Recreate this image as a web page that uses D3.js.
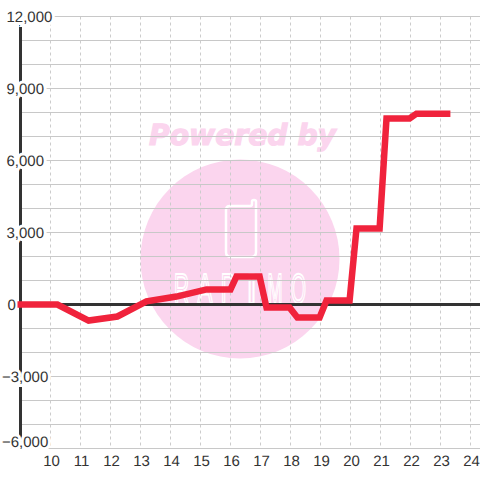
<!DOCTYPE html>
<html><head><meta charset="utf-8">
<script src="https://cdn.jsdelivr.net/npm/d3@7"></script>
<style>html,body{margin:0;padding:0;background:#fff}svg{display:block}text{font-family:"Liberation Sans",Arial,sans-serif;text-rendering:geometricPrecision}</style>
</head><body><div id="c"></div>
<script>
const hours=[8.9,10.23,11.27,12.23,13.2,14.2,15.2,16.0,16.2,16.97,17.2,17.97,18.23,18.97,19.2,19.97,20.2,20.97,21.2,21.97,22.2,23.33];
const values=[0,0,-670,-500,130,330,630,630,1170,1170,-130,-130,-540,-540,170,170,3170,3170,7750,7750,7950,7950];
const xTicks=[10,11,12,13,14,15,16,17,18,19,20,21,22,23,24];
const yLabelTicks=[12000,9000,6000,3000,0,-3000,-6000];
const yGridTicks=d3.range(-6000,12001,1000);
const brandLetters=['R','A','P','I','M','O'];

const svg=d3.select('#c').append('svg').attr('width',480).attr('height',480);
const x=d3.scaleLinear().domain([9,24.33]).range([20.5,480.4]);
const y=d3.scaleLinear().domain([-6000,12000]).range([448.5,16.5]);
const slot=d3.scaleLinear().domain([0,5]).range([181.5,298.5]);

// watermark
const wm=svg.append('g');
wm.append('circle').attr('cx',240).attr('cy',259).attr('r',99.5).attr('fill','#fbd5ee');
wm.append('text').attr('x',149).attr('y',145).attr('textLength',187).attr('lengthAdjust','spacingAndGlyphs')
  .style('font-family','"DejaVu Sans"').attr('font-size',29).attr('font-weight','bold').attr('font-style','italic').attr('fill','#fbd5ee').attr('stroke','#fbd5ee').attr('stroke-width',1.2).text('Powered by');
wm.append('path').attr('d','M230 206H250Q252 206 252 204V201.5Q252 200 254 200Q256 200 256 201.5V252Q256 257 251 257H231Q226 257 226 252V210Q226 206 230 206Z')
  .attr('fill','none').attr('stroke','#fff').attr('stroke-width',2.5);
wm.append('g').selectAll('text').data(brandLetters).join('text')
  .attr('text-anchor','middle').attr('font-size',42).attr('fill','none').attr('stroke','#fff').attr('stroke-width',2).text(d=>d)
  .attr('transform',function(d,i){
    const sx=Math.min(1,15/this.getComputedTextLength());
    return `translate(${slot(i)},303) scale(${sx},1)`;
  });

// grid
svg.append('g').selectAll('line').data(xTicks).join('line')
  .attr('x1',d=>x(d)).attr('x2',d=>x(d)).attr('y1',y.range()[1]).attr('y2',y.range()[0])
  .attr('stroke','#cccccc').attr('stroke-dasharray','3,3');
svg.append('g').selectAll('line').data(yGridTicks).join('line')
  .attr('x1',x.range()[0]).attr('x2',480).attr('y1',d=>y(d)).attr('y2',d=>y(d))
  .attr('stroke','#c8c8c8').attr('stroke-width',1);

// axes
svg.append('line').attr('x1',20.5).attr('x2',20.5).attr('y1',16).attr('y2',448).attr('stroke','#333').attr('stroke-width',3);
svg.append('line').attr('x1',20).attr('x2',480).attr('y1',y(0)).attr('y2',y(0)).attr('stroke','#333').attr('stroke-width',3);

// y labels with white backing
const labelX=d=>d<0?2:(d===0?7.5:6.5);
const labelY=d=>Math.min(y(d)+5.5,447);
const yl=svg.append('g').selectAll('g').data(yLabelTicks).join('g');
yl.append('text').attr('x',labelX).attr('y',labelY).attr('font-size',15)
  .attr('stroke','#fff').attr('stroke-width',6).attr('stroke-linejoin','miter').attr('fill','#fff').text(d=>d3.format(',')(d));
yl.append('text').attr('x',labelX).attr('y',labelY).attr('font-size',15).attr('fill','#333').text(d=>d3.format(',')(d));

// x labels
svg.append('g').selectAll('text').data(xTicks).join('text')
  .attr('x',d=>x(d)+1).attr('y',466).attr('text-anchor','middle').attr('font-size',15).attr('fill','#333').text(d=>d);

// series
svg.append('path').datum(hours.map((h,i)=>[h,values[i]]))
  .attr('d',d3.line().x(d=>x(d[0])).y(d=>y(d[1])))
  .attr('fill','none').attr('stroke','#f0233c').attr('stroke-width',6.5).attr('stroke-linejoin','miter');
</script></body></html>
